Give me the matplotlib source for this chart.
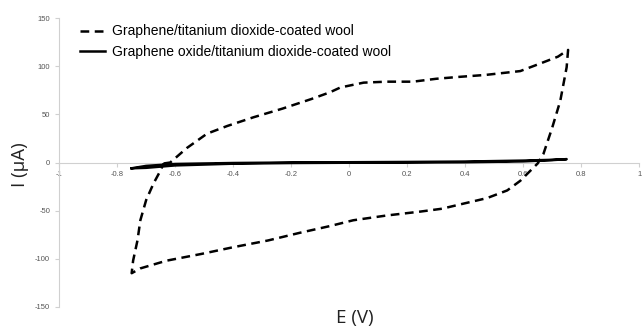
import numpy as np
import matplotlib.pyplot as plt

plt.rcParams['font.family'] = ['Liberation Sans', 'DejaVu Sans']
plt.rcParams['axes.unicode_minus'] = False

# graphene/TiO2 coated wool: closed CV loop (forward sweep then reverse)
e_g = [-0.64, -0.617, -0.56, -0.49, -0.42, -0.33, -0.23, -0.13, -0.066, -0.03, 0.05, 0.13,
       0.22, 0.30, 0.38, 0.47, 0.59, 0.66, 0.72, 0.755,
       0.75, 0.728, 0.70, 0.67, 0.65, 0.59, 0.545, 0.475, 0.39, 0.32, 0.245, 0.13, 0.014,
       -0.066, -0.17, -0.28, -0.40, -0.51, -0.63, -0.72, -0.75,
       -0.745, -0.73, -0.72, -0.70, -0.675, -0.65, -0.64]
i_g = [-1, 0, 15, 30, 38, 47, 56, 66, 73, 78, 83, 84,
       84, 87, 89, 91, 95, 103, 110, 117,
       99, 64, 36, 9, -1, -19, -29, -37, -43, -48, -51, -55, -60,
       -66, -73, -81, -88, -95, -102, -110, -115,
       -102, -81, -60, -39, -22, -8, -1]

# graphene oxide/TiO2 coated wool: thin loop near zero
e_go = [-0.75, -0.7, -0.6, -0.4, -0.2, 0.0, 0.2, 0.4, 0.6, 0.7, 0.75,
        0.7, 0.6, 0.4, 0.2, 0.0, -0.2, -0.4, -0.6, -0.7, -0.75]
i_go = [-6, -3.5, -1.5, -0.5, 0, 0.3, 0.6, 1, 2, 2.8, 3.5,
        2.5, 1.2, 0.3, 0, -0.2, -0.5, -1.2, -3, -5.5, -6]

xticks = ['-1', '-0.8', '-0.6', '-0.4', '-0.2', '0', '0.2', '0.4', '0.6', '0.8', '1']

fig = plt.figure(figsize=(6.43, 3.30), dpi=100)
ax = fig.add_axes([0.092, 0.070, 0.902, 0.875])

ax.plot(e_g, i_g, color='black', lw=1.8, ls=(0, (3.5, 2.2)),
        label='Graphene/titanium dioxide-coated wool')
ax.plot(e_go, i_go, color='black', lw=1.8,
        label='Graphene oxide/titanium dioxide-coated wool')

ax.set_xlim(-1, 1)
ax.set_ylim(-150, 150)
ax.set_xticks(np.arange(-1, 1.01, 0.2))
ax.set_xticklabels(xticks)
ax.set_yticks([-150, -100, -50, 0, 50, 100, 150])

ax.spines['top'].set_visible(False)
ax.spines['right'].set_visible(False)
ax.spines['bottom'].set_position(('data', 0))
ax.spines['bottom'].set_color('#d0d0d0')
ax.spines['left'].set_color('#d0d0d0')
ax.spines['bottom'].set_zorder(0)
ax.tick_params(axis='both', colors='#d0d0d0', labelcolor='#555555', labelsize=5.5, length=3)
ax.tick_params(axis='x', direction='out', pad=3)

fig.text(0.031, 0.50, 'I (μA)', rotation=90, ha='center', va='center',
         fontsize=13.5, color='#222222', family=['Open Sans', 'DejaVu Sans'])
fig.text(0.552, 0.035, 'E (V)', ha='center', va='center',
         fontsize=13.5, color='#222222', family=['Open Sans', 'DejaVu Sans'])

leg = ax.legend(loc='upper left', bbox_to_anchor=(0.021, 1.007), frameon=False,
                fontsize=10, handlelength=1.8, handletextpad=0.5, labelspacing=0.45,
                borderaxespad=0.2)

fig.savefig('out.png', dpi=100)
